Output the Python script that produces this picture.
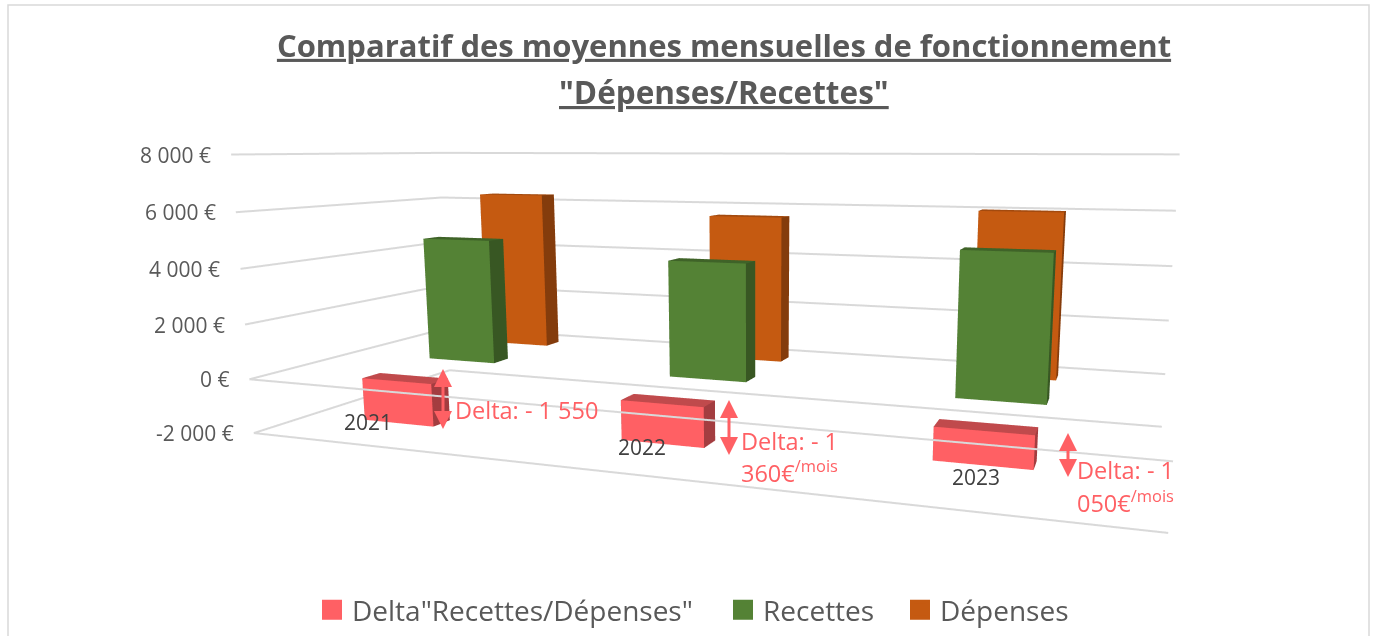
import numpy as np, plotly.graph_objects as go

W, H = 1375, 636
FONT = "Open Sans"
GREY = "#595959"
PINK = "#ff6064"

# ---- chart data ----
YEARS = ["2021", "2022", "2023"]
DELTA = [-1550, -1360, -1050]
RECETTES = [4740, 4240, 4950]
DEPENSES = [6290, 5600, 6000]
TICKS = [8000, 6000, 4000, 2000, 0, -2000]
TICK_LABELS = ["8 000 €", "6 000 €", "4 000 €", "2 000 €", "0 €", "-2 000 €"]
SERIES_NAMES = ['Delta"Recettes/Dépenses"', "Recettes", "Dépenses"]
DELTA_LINE1 = ["Delta: - 1 550", "Delta: - 1", "Delta: - 1"]
DELTA_LINE2 = ["", "360€<sup>/mois</sup>", "050€<sup>/mois</sup>"]
TITLE_1 = "Comparatif des moyennes mensuelles de fonctionnement"
TITLE_2 = '"Dépenses/Recettes"'

# ---- view of the 3D box (unit box: x categories, y series depth, z value) ----
EYE = np.array([1.3468, -1.3296, 0.6252])
LOOK = np.array([0.8643, 0.5409, 0.1958])
SX, SY, SZ = 1.8283, 0.5528, 0.6102
SKEW_XY, SKEW_XZ, SKEW_YZ = 0.0851, -0.0117, 0.1013
ZMIN, ZMAX = -2000, 8000
ZPAD = 200
BAR_W, BAR_D = 0.095, 0.082
CENTERS = [1 / 6, 1 / 2, 5 / 6]
ROWS = [1 / 6, 1 / 2, 5 / 6]
COLORS = [("#ff6064", "#c04a4c", "#a33d40"),
          ("#548235", "#3f6328", "#385723"),
          ("#c55a11", "#a34a0e", "#843c0c")]


def to_scene(x, y, v):
    x, y, v = np.asarray(x, float), np.asarray(y, float), np.asarray(v, float)
    z = (v - ZMIN) / (ZMAX - ZMIN)
    return SX * (x + SKEW_XY * y + SKEW_XZ * z), SY * (y + SKEW_YZ * z), v


cx, cy, _ = to_scene([0, 0, 0, 0, 1, 1, 1, 1], [0, 0, 1, 1, 0, 0, 1, 1],
                     [ZMIN, ZMAX] * 4)
lo = np.array([cx.min() - .02, cy.min() - .02])
hi = np.array([cx.max() + .02, cy.max() + .02])
mid3 = np.r_[(lo + hi) / 2, SZ * .5]
span = hi - lo

fig = go.Figure()

FI = [0, 0, 4, 4, 0, 0, 1, 1, 0, 0, 3, 3]
FJ = [1, 2, 5, 6, 1, 5, 2, 6, 3, 7, 2, 6]
FK = [2, 3, 6, 7, 5, 4, 6, 5, 7, 4, 6, 7]


def bar(xc, yc, v0, v1, c):
    x0, x1, y0, y1 = xc - BAR_W / 2, xc + BAR_W / 2, yc - BAR_D / 2, yc + BAR_D / 2
    a, b, v = to_scene([x0, x1, x1, x0] * 2, [y0, y0, y1, y1] * 2, [v0] * 4 + [v1] * 4)
    fig.add_trace(go.Mesh3d(x=a, y=b, z=v, i=FI, j=FJ, k=FK,
                            facecolor=[c[1]] * 4 + [c[0]] * 2 + [c[2]] * 2 + [c[1]] * 4,
                            flatshading=True,
                            lighting=dict(ambient=1, diffuse=0, specular=0, fresnel=0),
                            hoverinfo="skip", showlegend=False))


def grid(p, q, v):
    a, b, c = to_scene([p[0], q[0]], [p[1], q[1]], [v, v])
    fig.add_trace(go.Scatter3d(x=a, y=b, z=c, mode="lines",
                               line=dict(color="#d9d9d9", width=4),
                               hoverinfo="skip", showlegend=False))


for t in TICKS:
    grid((0, 0), (0, 1), t)
    grid((0, 1), (1, 1), t)
grid((0, 0), (1, 0), 0)
grid((0, 0), (1, 0), ZMIN)

for row, values, c in zip(ROWS, [DELTA, RECETTES, DEPENSES], COLORS):
    for xc, v in zip(CENTERS, values):
        bar(xc, row, min(v, 0), max(v, 0), c)

LEGEND_IDS = ["legend", "legend2", "legend3"]
for name, c, lid in zip(SERIES_NAMES, COLORS, LEGEND_IDS):
    fig.add_trace(go.Scatter(x=[None], y=[None], mode="markers", name=name, legend=lid,
                             marker=dict(symbol="square", size=16, color=c[0],
                                         line=dict(color=c[0], width=4))))

ax, ay, az = to_scene([0] * len(TICKS), [0] * len(TICKS), TICKS)
scene_notes = [dict(x=float(a), y=float(b), z=float(v), text=t, showarrow=False, xanchor="right",
                    xshift=-18, font=dict(family=FONT, size=21, color=GREY))
               for a, b, v, t in zip(ax, ay, az, TICK_LABELS)]


def P(x, y):
    return dict(x=x / W, y=1 - y / H, xref="paper", yref="paper")


notes = [dict(text=TITLE_2, showarrow=False, xanchor="center", yanchor="middle",
              font=dict(family=FONT, size=31.5, color=GREY, weight="bold", lineposition="under"),
              **P(724, 91))]
for t, (x, y) in zip(YEARS, [(368, 422), (642, 447), (976, 477)]):
    notes.append(dict(text=t, showarrow=False, xanchor="center", yanchor="middle",
                      font=dict(family=FONT, size=21, color="#404040"), **P(x, y)))
for t1, t2, (x, y1, y2) in zip(DELTA_LINE1, DELTA_LINE2, [(453, 410, 441), (739, 441, 472), (1075, 470, 501)]):
    notes.append(dict(text=t1, showarrow=False, xanchor="left", yanchor="middle",
                      font=dict(family=FONT, size=23.5, color=PINK), **P(x, y1)))
    if t2:
        notes.append(dict(text=t2, showarrow=False, xanchor="left", yanchor="middle",
                          font=dict(family=FONT, size=23.5, color=PINK), **P(x, y2)))
for x, y0, y1 in [(443, 369, 430), (729, 400, 456), (1068, 433, 478)]:
    notes.append(dict(text=" ", font=dict(size=1), borderpad=0, showarrow=True, arrowhead=2,
                      arrowside="end+start", arrowsize=1.2, startarrowhead=2, startarrowsize=1.2,
                      arrowwidth=3, arrowcolor=PINK, standoff=0, startstandoff=0,
                      ax=0, ay=y1 - y0, axref="pixel", ayref="pixel", **P(x, y0)))

e = EYE - mid3
c = LOOK - mid3
LEG_FONT = dict(family=FONT, size=28, color=GREY)


def legend_at(x):
    return dict(orientation="h", x=x / W, xanchor="left", y=1 - 610 / H, yanchor="middle",
                font=LEG_FONT, itemclick=False, itemdoubleclick=False, bgcolor="rgba(0,0,0,0)")


zspan = ZMAX - ZMIN
fig.update_layout(
    width=W, height=H, margin=dict(l=0, r=0, t=0, b=0), paper_bgcolor="white", plot_bgcolor="white",
    title=dict(text=TITLE_1, x=724 / W, xanchor="center", y=1 - 46 / H, yanchor="middle",
               font=dict(family=FONT, size=31, color=GREY, weight="bold", lineposition="under")),
    xaxis=dict(visible=False), yaxis=dict(visible=False),
    legend=legend_at(312), legend2=legend_at(723), legend3=legend_at(900),
    scene=dict(domain=dict(x=[0, 1], y=[0, 1]), aspectmode="manual",
               aspectratio=dict(x=float(span[0]), y=float(span[1]), z=SZ * (zspan + 2 * ZPAD) / zspan),
               xaxis=dict(range=[float(lo[0]), float(hi[0])], visible=False),
               yaxis=dict(range=[float(lo[1]), float(hi[1])], visible=False),
               zaxis=dict(range=[ZMIN - ZPAD, ZMAX + ZPAD], visible=False),
               camera=dict(eye=dict(x=e[0], y=e[1], z=e[2]), center=dict(x=c[0], y=c[1], z=c[2]),
                           up=dict(x=0, y=0, z=1), projection=dict(type="perspective")),
               annotations=scene_notes),
    annotations=notes,
    shapes=[dict(type="rect", xref="paper", yref="paper", x0=8 / W, x1=1369 / W, y0=-0.02, y1=1 - 5 / H,
                 line=dict(color="#d9d9d9", width=1.5), layer="below")],
)
fig.write_html("out.html", config=dict(displayModeBar=False),
               post_script="document.body.style.margin='0';")
